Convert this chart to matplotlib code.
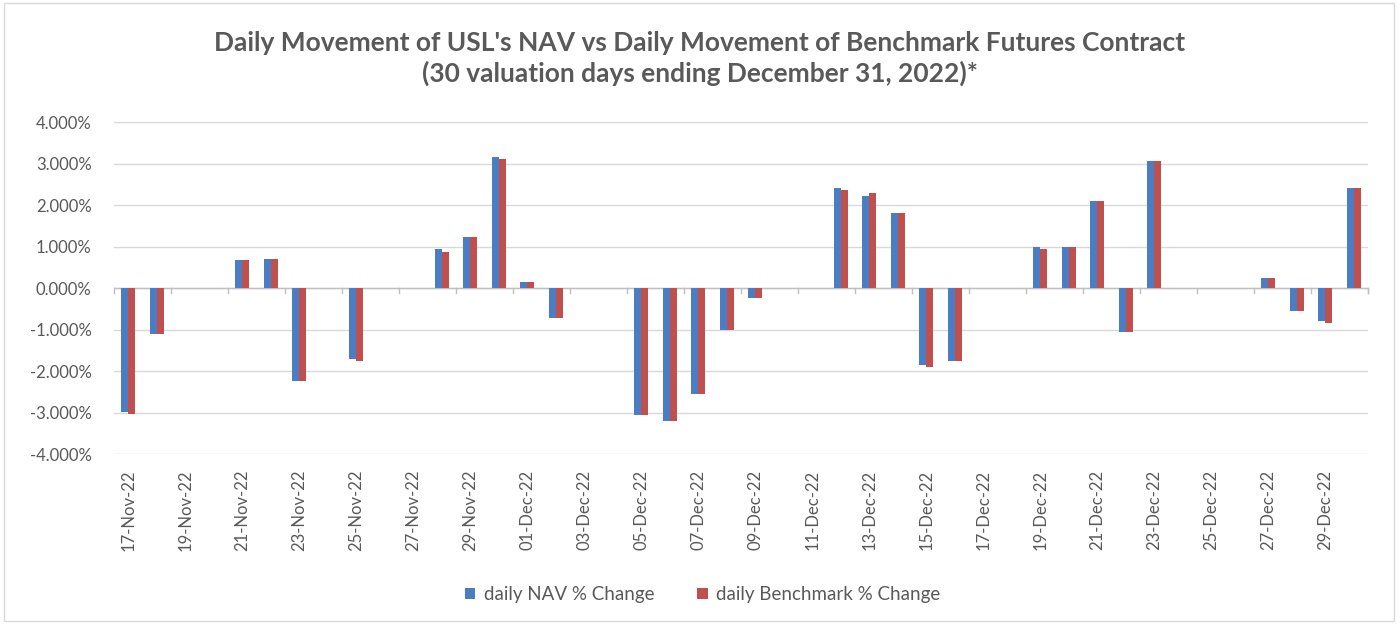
import matplotlib
matplotlib.use("Agg")
import matplotlib.pyplot as plt
import matplotlib.patches as mpatches
import pandas as pd
import numpy as np
from matplotlib.ticker import FuncFormatter

plt.rcParams['font.family'] = ['Lato', 'DejaVu Sans']

dates = ["2022-11-17", "2022-11-18", "2022-11-21", "2022-11-22", "2022-11-23",
         "2022-11-25", "2022-11-28", "2022-11-29", "2022-11-30", "2022-12-01",
         "2022-12-02", "2022-12-05", "2022-12-06", "2022-12-07", "2022-12-08",
         "2022-12-09", "2022-12-12", "2022-12-13", "2022-12-14", "2022-12-15",
         "2022-12-16", "2022-12-19", "2022-12-20", "2022-12-21", "2022-12-22",
         "2022-12-23", "2022-12-27", "2022-12-28", "2022-12-29", "2022-12-30"]
nav_change = [-2.99, -1.11, 0.67, 0.71, -2.24, -1.72, 0.93, 1.24, 3.15, 0.15,
              -0.71, -3.06, -3.20, -2.55, -1.02, -0.24, 2.41, 2.23, 1.80, -1.85,
              -1.76, 0.98, 0.98, 2.10, -1.06, 3.06, 0.24, -0.55, -0.80, 2.41]
bench_change = [-3.04, -1.11, 0.67, 0.71, -2.24, -1.76, 0.88, 1.24, 3.11, 0.15,
                -0.71, -3.06, -3.20, -2.55, -1.02, -0.24, 2.36, 2.28, 1.80, -1.90,
                -1.76, 0.93, 0.98, 2.10, -1.06, 3.06, 0.24, -0.55, -0.84, 2.41]
axis_start = "2022-11-17"
axis_end = "2022-12-30"
series_names = ["daily NAV % Change", "daily Benchmark % Change"]
title = "Daily Movement of USL's NAV vs Daily Movement of Benchmark Futures Contract\n(30 valuation days ending December 31, 2022)*"

blue = "#4A7DC4"
red = "#C0504D"
txt = "#595959"

start = pd.Timestamp(axis_start)
end = pd.Timestamp(axis_end)
x = np.array([(pd.Timestamp(d) - start).days for d in dates], dtype=float)
ndays = (end - start).days + 1

fig = plt.figure(figsize=(14, 6.29), dpi=100)
ax = fig.add_axes([0.0814, 0.278, 0.8957, 0.528])

w = 0.25
ax.bar(x - w, nav_change, width=w, align='edge', color=blue, label=series_names[0], zorder=3)
ax.bar(x, bench_change, width=w, align='edge', color=red, label=series_names[1], zorder=3)

ax.set_xlim(-0.5, ndays - 0.5)
ax.set_ylim(-4, 4)
ax.set_yticks(np.arange(-4, 4.01, 1))
ax.yaxis.set_major_formatter(FuncFormatter(lambda v, p: f"{v:.3f}%"))
ax.grid(axis='y', color='#d9d9d9', linewidth=1, zorder=0)
for s in ax.spines.values():
    s.set_visible(False)
ax.tick_params(axis='y', length=0, labelsize=12, labelcolor=txt, pad=16)

lab_pos = np.arange(0, ndays, 2)
lab_txt = [(start + pd.Timedelta(days=int(i))).strftime("%d-%b-%y") for i in lab_pos]
ax.set_xticks(lab_pos)
ax.set_xticklabels(lab_txt, rotation=90, fontsize=12, color=txt)
ax.tick_params(axis='x', length=0, pad=11)

ax.axhline(0, color='#bfbfbf', linewidth=1, zorder=2)
bounds = list(np.arange(-0.5, ndays, 2)) + [ndays - 0.5]
for b in bounds:
    ax.plot([b, b], [0, -0.12], color='#bfbfbf', linewidth=1, zorder=2, clip_on=False)

leg = fig.legend(loc='center', bbox_to_anchor=(0.502, 0.055), ncol=2, frameon=False,
                 fontsize=13.5, handlelength=0.55, handleheight=0.55, handletextpad=0.45,
                 columnspacing=2.3)
for t in leg.get_texts():
    t.set_color(txt)

fig.text(0.5, 0.907, title, ha='center', va='center', fontsize=19, fontweight='bold',
         color=txt, linespacing=1.3)

fig.patches.append(mpatches.Rectangle((0.003, 0.012), 0.993, 0.983, transform=fig.transFigure,
                                      fill=False, edgecolor='#d9d9d9', linewidth=1))

fig.savefig("out.png", dpi=100)
